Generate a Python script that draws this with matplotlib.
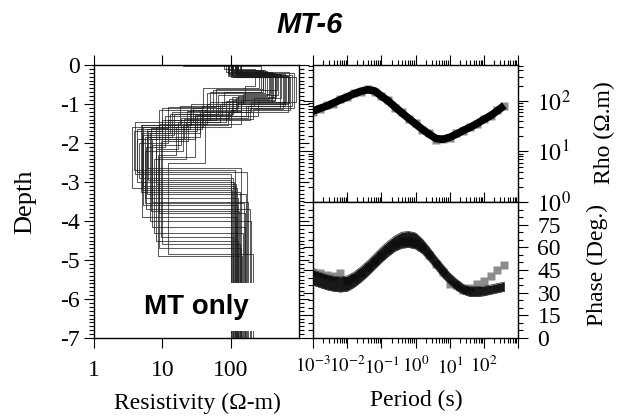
import numpy as np
import matplotlib
matplotlib.use("Agg")
import matplotlib.pyplot as plt
from matplotlib.ticker import MultipleLocator, LogLocator, FixedLocator, NullLocator

plt.rcParams["font.family"] = ["Liberation Serif", "DejaVu Serif"]
plt.rcParams["mathtext.fontset"] = "stix"
plt.rcParams["axes.unicode_minus"] = False

# layered models: resistivity of each layer (ohm-m), depth of layer bottoms
rho_l1 = [110, 95, 130, 100, 120, 85, 140, 105, 115, 90, 125, 100, 135, 80, 110,
          95, 120, 105, 130, 100, 90, 115, 125, 20, 110, 100, 140, 95, 120, 105]
bot_l1 = [0.20, 0.25, 0.15, 0.30, 0.22, 0.18, 0.28, 0.12, 0.26, 0.20, 0.32, 0.16, 0.24, 0.10, 0.30,
          0.22, 0.18, 0.27, 0.14, 0.21, 0.29, 0.17, 0.23, 0.03, 0.25, 0.19, 0.31, 0.13, 0.26, 0.20]
rho_l2 = [420, 650, 300, 900, 520, 380, 700, 260, 800, 450, 600, 340, 480, 230, 750,
          550, 400, 680, 320, 850, 500, 360, 620, 280, 440, 720, 580, 300, 460, 390]
bot_l2 = [0.85, 0.95, 0.70, 0.95, 1.10, 0.75, 1.20, 0.60, 1.05, 0.90, 1.00, 0.80, 0.65, 0.55, 1.15,
          0.85, 0.95, 1.00, 0.72, 1.10, 0.78, 0.88, 1.05, 0.68, 0.92, 0.98, 1.12, 0.62, 0.82, 0.90]
rho_l3 = [120, 200, 80, 250, 60, 150, 90, 40, 180, 110, 70, 130, 55, 160, 100,
          220, 75, 140, 45, 190, 65, 95, 170, 50, 85, 125, 210, 60, 105, 140]
bot_l3 = [1.15, 1.20, 1.05, 1.30, 1.40, 1.00, 1.55, 1.10, 1.35, 1.25, 1.45, 1.10, 1.20, 0.95, 1.60,
          1.05, 1.30, 1.50, 1.15, 1.40, 1.25, 1.35, 1.30, 1.00, 1.45, 1.20, 1.38, 1.08, 1.28, 1.18]
rho_l4 = [25, 40, 18, 30, 12, 45, 20, 10, 35, 15, 22, 28, 14, 50, 16,
          38, 11, 24, 9, 42, 13, 19, 32, 26, 17, 36, 21, 12, 30, 23]
bot_l4 = [1.65, 1.60, 1.55, 1.90, 2.00, 1.50, 2.20, 1.70, 1.75, 1.80, 2.40, 1.45, 1.85, 1.40, 2.30,
          1.65, 2.10, 1.95, 1.60, 2.50, 1.75, 2.05, 1.70, 1.55, 2.15, 1.85, 1.90, 1.62, 2.35, 1.58]
rho_l5 = [6.0, 8.0, 5.0, 7.0, 4.5, 9.0, 5.5, 3.8, 6.5, 5.2, 7.5, 4.0, 6.0, 10.0, 8.5,
          4.2, 5.8, 9.5, 3.6, 12.0, 5.0, 7.0, 6.2, 4.8, 8.0, 5.5, 4.3, 6.8, 9.0, 5.3]
bot_l5 = [2.65, 3.05, 3.20, 3.50, 2.90, 3.80, 3.40, 2.70, 4.00, 3.60, 4.30, 2.80, 3.30, 4.60, 4.90,
          3.00, 3.70, 4.40, 3.15, 4.85, 3.90, 4.15, 2.95, 3.25, 4.50, 3.55, 2.75, 3.75, 4.70, 3.10]
rho_l6 = [140, 120, 105, 180, 110, 160, 130, 115, 200, 125, 150, 100, 170, 135, 145,
          112, 190, 108, 122, 210, 118, 160, 102, 138, 128, 155, 175, 132, 142, 115]
max_depth = 7.0

# MT sounding: period (s), apparent resistivity (ohm-m), phase (deg)
periods = [0.001, 0.00158, 0.00251, 0.00398, 0.00631, 0.01, 0.0158, 0.0251, 0.0398, 0.0631,
           0.1, 0.158, 0.251, 0.398, 0.631, 1.0, 1.58, 2.51, 3.98, 6.31,
           10.0, 15.8, 25.1, 39.8, 63.1, 100.0, 158.0, 251.0, 398.0]
rho_obs = [60, 70, 82, 88, 108, 118, 142, 150, 170, 152, 124, 104, 72, 60, 43,
           36, 26, 23, 17, 18, 18.5, 23, 25, 31, 34.5, 44, 50, 66, 78]
rho_fit = [63, 71, 79, 91, 105, 120, 138, 155, 166, 158, 125, 100, 76, 58, 45,
           35, 27.5, 22, 18, 17.4, 19, 22, 26, 30, 35.5, 43, 51, 64, 81]
phase_obs = [44, 43, 42, 41, 43, 38, 40, 43, 47, 51, 55, 59, 62, 64, 64,
             63, 60, 55, 49, 44, 36, 35, 32, 33, 36, 38, 41, 45, 48]
phase_lo = [35, 33.5, 32, 31, 30.5, 31, 33.5, 37, 41, 45.5, 50, 54, 57.5, 59.5, 60,
            59, 56, 51, 45.5, 40, 35.5, 31.5, 29, 27.5, 27.5, 28, 29, 30, 31]
phase_hi = [45, 43.5, 42, 41, 40.5, 41, 43.5, 47, 51, 55.5, 60, 64, 67.5, 70, 70.5,
            69.5, 65.5, 60, 54, 48.5, 43, 39, 35.5, 34, 34, 34.5, 35, 36, 37]

period_ticks = [1e-3, 1e-2, 1e-1, 1e0, 1e1, 1e2, 1e3]
period_labels = [r"$10^{-3}$", r"$10^{-2}$", r"$10^{-1}$", r"$10^{0}$", r"$10^{1}$", r"$10^{2}$", ""]

W, H = 626, 418
fig = plt.figure(figsize=(W / 100, H / 100), dpi=100)
ax0 = fig.add_axes([94 / W, 80 / H, 205 / W, 273 / H])
ax1 = fig.add_axes([313 / W, 216 / H, 205 / W, 137 / H])
ax2 = fig.add_axes([313 / W, 80 / H, 205 / W, 136 / H])

# --- models
layers_rho = [rho_l1, rho_l2, rho_l3, rho_l4, rho_l5, rho_l6]
layers_bot = [bot_l1, bot_l2, bot_l3, bot_l4, bot_l5]
for m in range(len(rho_l1)):
    xs, ys = [], []
    top = 0.0
    for k in range(6):
        bot = layers_bot[k][m] if k < 5 else max_depth
        r = layers_rho[k][m]
        xs += [r, r]
        ys += [-top, -bot]
        top = bot
    ax0.plot(xs, ys, color="0.1", lw=0.75, alpha=0.7, zorder=2)

ax0.text(32, -6.2, "MT only", family="Liberation Sans", fontweight="bold", fontsize=20,
         ha="center", va="center", zorder=5,
         bbox=dict(boxstyle="square,pad=0.4", fc="white", ec="none"))

ax0.set_xscale("log")
ax0.set_xlim(1, 1000)
ax0.set_ylim(-7, 0)
ax0.xaxis.set_major_locator(FixedLocator([1, 10, 100]))
ax0.set_xticklabels(["1", "10", "100"])
ax0.xaxis.set_minor_locator(NullLocator())
ax0.yaxis.set_major_locator(MultipleLocator(1))
ax0.yaxis.set_minor_locator(MultipleLocator(0.1))
ax0.tick_params(which="both", direction="out", top=True, right=True, labelsize=17, width=0.8)
ax0.tick_params(axis="x", which="major", pad=9)
ax0.tick_params(which="major", length=7)
ax0.tick_params(which="minor", length=3.5)

# --- apparent resistivity
ax1.plot(periods, rho_obs, "s", color="0.55", ms=6, mec="none", zorder=1)
ax1.plot(periods, rho_fit, color="black", lw=5.5, solid_capstyle="butt", zorder=2)
ax1.set_xscale("log")
ax1.set_yscale("log")
ax1.set_xlim(1e-3, 1e3)
ax1.set_ylim(1, 10 ** 2.71)
ax1.yaxis.set_major_locator(FixedLocator([1, 10, 100]))
ax1.set_yticklabels([r"$10^{0}$", r"$10^{1}$", r"$10^{2}$"])
ax1.yaxis.set_minor_locator(LogLocator(base=10, subs=np.arange(2, 10), numticks=100))

# --- phase
ax2.plot(periods, phase_obs, "s", color="0.55", ms=6, mec="none", zorder=1)
ax2.fill_between(periods, phase_lo, phase_hi, color="black", lw=0, alpha=0.9, zorder=2)
ax2.plot(periods, phase_lo, color="0.25", lw=0.6, zorder=3)
ax2.plot(periods, phase_hi, color="0.25", lw=0.6, zorder=3)
ax2.set_xscale("log")
ax2.set_xlim(1e-3, 1e3)
ax2.set_ylim(0, 90)
ax2.yaxis.set_major_locator(FixedLocator([0, 15, 30, 45, 60, 75]))
ax2.yaxis.set_minor_locator(MultipleLocator(5))

for ax in (ax1, ax2):
    ax.xaxis.set_major_locator(FixedLocator(period_ticks))
    ax.set_xticklabels(period_labels)
    ax.xaxis.set_minor_locator(LogLocator(base=10, subs=np.arange(2, 10), numticks=100))
    ax.tick_params(which="both", direction="out", top=True, bottom=True, left=True, right=True,
                   labelleft=False, labelright=True, labelsize=17, width=0.8, pad=7)
    ax.tick_params(which="major", length=7)
    ax.tick_params(which="minor", length=3.5)
ax1.tick_params(labelbottom=False)
ax2.tick_params(axis="x", pad=6, labelsize=13.5)

for ax in (ax0, ax1, ax2):
    for s in ax.spines.values():
        s.set_linewidth(1.0)

fig.text(310 / W, 1 - 25 / H, "MT-6", family="Liberation Sans", fontweight="bold",
         fontstyle="italic", fontsize=21, ha="center", va="center")
fig.text(25 / W, 1 - 202 / H, "Depth", fontsize=19, rotation=90, ha="center", va="center")
fig.text(197 / W, 1 - 403 / H, "Resistivity (Ω-m)", fontsize=17, ha="center", va="center")
fig.text(416 / W, 1 - 400 / H, "Period (s)", fontsize=17, ha="center", va="center")
fig.text(604 / W, 1 - 133 / H, "Rho (Ω.m)", fontsize=17, rotation=90, ha="center", va="center")
fig.text(597 / W, 1 - 265 / H, "Phase (Deg.)", fontsize=17, rotation=90, ha="center", va="center")

fig.savefig("out.png", dpi=100)
